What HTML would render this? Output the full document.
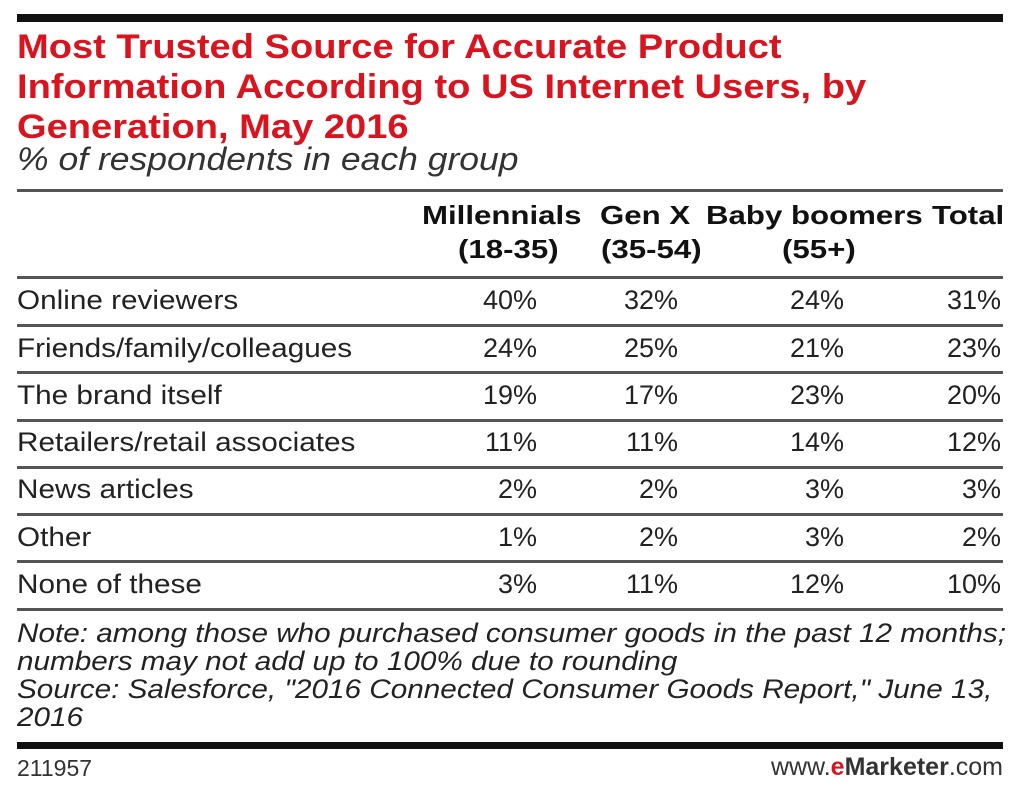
<!DOCTYPE html>
<html><head><meta charset="utf-8"><style>
body{margin:0;width:1024px;height:794px;background:#fff;position:relative;overflow:hidden;font-family:"Liberation Sans",sans-serif;color:#222}
div{position:absolute;white-space:nowrap}
.bar{left:17px;width:986px;background:#111}
.ln{left:17px;width:986px;height:3px;background:#555}
.t{left:17px;color:#d9141f;font-weight:bold;font-size:34px;transform-origin:0 0;transform:scaleX(1.12)}
.h{font-weight:bold;font-size:26px;color:#111;transform-origin:0 0;transform:scaleX(1.2)}
.r{left:17px;font-size:27px;transform-origin:0 0;transform:scaleX(1.1)}
.v{font-size:27px;text-align:right;width:80px}
.n{left:17px;font-style:italic;font-size:27px;transform-origin:0 0;transform:scaleX(1.1)}
</style></head><body>
<div class="bar" style="top:14px;height:8px"></div>
<div class="t" style="top:28px">Most Trusted Source for Accurate Product</div>
<div class="t" style="top:68px">Information According to US Internet Users, by</div>
<div class="t" style="top:108px">Generation, May 2016</div>
<div style="left:17px;top:141px;font-style:italic;font-size:32px;color:#333;transform-origin:0 0;transform:scaleX(1.11)">% of respondents in each group</div>
<div class="ln" style="top:189px"></div>
<div class="h" style="left:422px;top:200px">Millennials</div>
<div class="h" style="left:458px;top:234px">(18-35)</div>
<div class="h" style="left:600px;top:200px">Gen X</div>
<div class="h" style="left:601px;top:234px">(35-54)</div>
<div class="h" style="left:706px;top:200px">Baby boomers</div>
<div class="h" style="left:782px;top:234px">(55+)</div>
<div class="h" style="left:932px;top:200px">Total</div>
<div class="ln" style="top:276px"></div>

<div class="r" style="top:285px">Online reviewers</div>
<div class="v" style="left:457px;top:285px">40%</div><div class="v" style="left:598px;top:285px">32%</div><div class="v" style="left:764px;top:285px">24%</div><div class="v" style="left:921px;top:285px">31%</div>
<div class="ln" style="top:324px"></div>
<div class="r" style="top:333px">Friends/family/colleagues</div>
<div class="v" style="left:457px;top:333px">24%</div><div class="v" style="left:598px;top:333px">25%</div><div class="v" style="left:764px;top:333px">21%</div><div class="v" style="left:921px;top:333px">23%</div>
<div class="ln" style="top:371px"></div>
<div class="r" style="top:380px">The brand itself</div>
<div class="v" style="left:457px;top:380px">19%</div><div class="v" style="left:598px;top:380px">17%</div><div class="v" style="left:764px;top:380px">23%</div><div class="v" style="left:921px;top:380px">20%</div>
<div class="ln" style="top:419px"></div>
<div class="r" style="top:427px">Retailers/retail associates</div>
<div class="v" style="left:457px;top:427px">11%</div><div class="v" style="left:598px;top:427px">11%</div><div class="v" style="left:764px;top:427px">14%</div><div class="v" style="left:921px;top:427px">12%</div>
<div class="ln" style="top:466px"></div>
<div class="r" style="top:474px">News articles</div>
<div class="v" style="left:457px;top:474px">2%</div><div class="v" style="left:598px;top:474px">2%</div><div class="v" style="left:764px;top:474px">3%</div><div class="v" style="left:921px;top:474px">3%</div>
<div class="ln" style="top:513px"></div>
<div class="r" style="top:522px">Other</div>
<div class="v" style="left:457px;top:522px">1%</div><div class="v" style="left:598px;top:522px">2%</div><div class="v" style="left:764px;top:522px">3%</div><div class="v" style="left:921px;top:522px">2%</div>
<div class="ln" style="top:560px"></div>
<div class="r" style="top:569px">None of these</div>
<div class="v" style="left:457px;top:569px">3%</div><div class="v" style="left:598px;top:569px">11%</div><div class="v" style="left:764px;top:569px">12%</div><div class="v" style="left:921px;top:569px">10%</div>
<div class="ln" style="top:608px"></div>

<div class="n" style="top:618px">Note: among those who purchased consumer goods in the past 12 months;</div>
<div class="n" style="top:646px">numbers may not add up to 100% due to rounding</div>
<div class="n" style="top:674px">Source: Salesforce, "2016 Connected Consumer Goods Report," June 13,</div>
<div class="n" style="top:702px">2016</div>
<div class="bar" style="top:742px;height:7px"></div>
<div style="left:17px;top:755px;font-size:23px;color:#333">211957</div>
<div style="right:21px;top:753px;font-size:25px;color:#333">www.<span style="color:#d9141f;font-weight:bold">e</span><b>Marketer</b>.com</div>
</body></html>
